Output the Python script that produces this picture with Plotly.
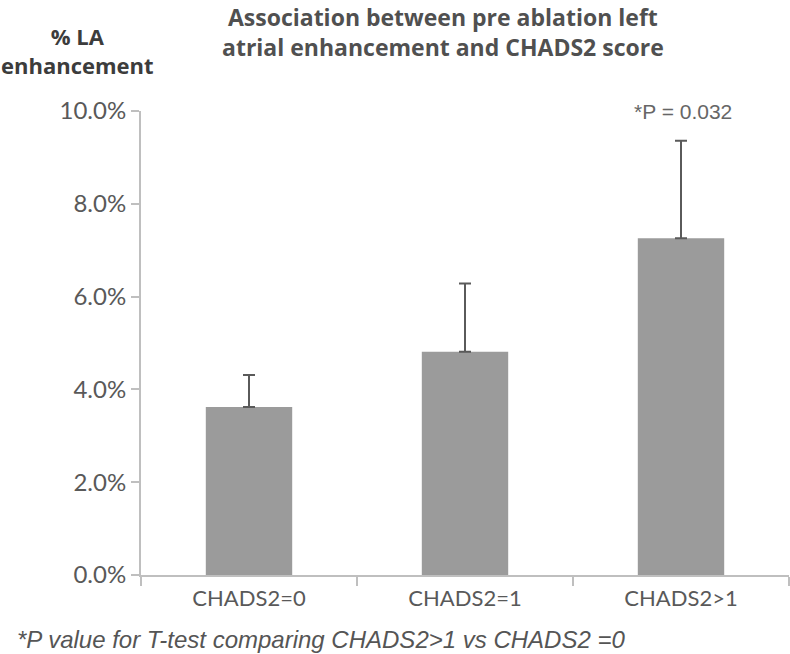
import plotly.graph_objects as go

categories = ["CHADS2=0", "CHADS2=1", "CHADS2>1"]
values = [0.0362, 0.0481, 0.0726]
err_plus = [0.0069, 0.0147, 0.0210]
y_ticks = [0.0, 0.02, 0.04, 0.06, 0.08, 0.10]
p_label = "*P = 0.032"

W, H = 790, 654
L, R, T, B = 141, 1, 111, 79
PW, PH = W - L - R, H - T - B


def px(xw):
    return (xw - L) / PW


def py(yw):
    return (H - B - yw) / PH


fig = go.Figure()
fig.add_trace(go.Bar(
    x=categories, y=values, width=0.4,
    marker=dict(color="#9b9b9b", line=dict(width=0)),
    error_y=dict(type="data", symmetric=False, array=err_plus,
                 arrayminus=[0, 0, 0], color="#5a5a5a", thickness=2, width=6),
))

fig.add_annotation(x=categories[2], y=py(111), xref="x", yref="paper", text=p_label,
                   showarrow=False, yanchor="middle", xshift=2,
                   font=dict(family="Liberation Sans", size=21, color="#666666"))

fig.add_annotation(xref="paper", yref="paper", x=px(443), y=py(0), xanchor="center", yanchor="top",
                   borderpad=0, align="center",
                   text="<b>Association between pre ablation left<br>atrial enhancement and CHADS2 score</b>",
                   showarrow=False, font=dict(family="Open Sans", size=23, color="#505050"))
fig.add_annotation(xref="paper", yref="paper", x=px(77), y=py(51), xanchor="center", yanchor="middle",
                   borderpad=0, align="center",
                   text="<b>% LA<br>enhancement</b>", showarrow=False,
                   font=dict(family="Open Sans", size=22, color="#3c3c3c"))
fig.add_annotation(xref="paper", yref="paper", x=px(15), y=py(639), xanchor="left", yanchor="middle",
                   text="<i>*P value for T-test comparing CHADS2>1 vs CHADS2 =0</i>",
                   showarrow=False, align="left",
                   font=dict(family="Liberation Sans", size=24, color="#555555"))

fig.update_layout(
    width=W, height=H,
    margin=dict(l=L, r=R, t=T, b=B),
    plot_bgcolor="white", paper_bgcolor="white",
    showlegend=False,
)
fig.update_yaxes(range=[0, 0.10], tickvals=y_ticks, tickformat=".1%",
                 showgrid=False, zeroline=False, showline=True, linecolor="#bfbfbf", linewidth=2,
                 ticks="outside", ticklen=8, tickcolor="#bfbfbf", tickwidth=2,
                 tickfont=dict(family="Lato", size=24, color="#595959"))
fig.update_xaxes(showgrid=False, showline=True, linecolor="#bfbfbf", linewidth=2,
                 ticks="outside", tickson="boundaries", ticklen=9, tickcolor="#bfbfbf", tickwidth=2,
                 ticklabelstandoff=3,
                 tickfont=dict(family="Lato", size=22, color="#595959"))

fig.write_html("out.html", config={"displayModeBar": False},
               post_script="document.body.style.margin='0';")
